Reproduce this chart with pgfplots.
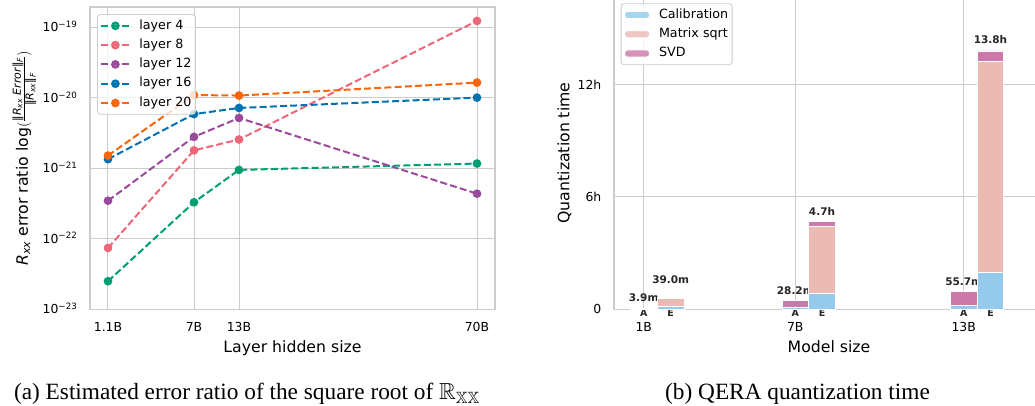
\documentclass[border=0pt]{standalone}
\usepackage{pgfplots}
\pgfplotsset{compat=1.18}
\usepackage{amssymb}
\usepackage{fontspec}
\setmainfont{DejaVu Sans}
\newfontfamily\capfont{Liberation Serif}
\definecolor{cGreen}{HTML}{009E73}
\definecolor{cPink}{HTML}{EE6677}
\definecolor{cPurple}{HTML}{9A4A9C}
\definecolor{cBlue}{HTML}{0072B2}
\definecolor{cOrange}{HTML}{F8650A}
\definecolor{cCal}{HTML}{95CAEC}
\definecolor{cSqrt}{HTML}{EBBAB3}
\definecolor{cSVD}{HTML}{CC78A8}
\definecolor{gridc}{HTML}{CCCCCC}
\newcommand{\fs}[1]{\fontsize{#1}{#1}\selectfont}
\tikzset{
  tot/.style={anchor=base, inner sep=0pt, font=\bfseries\fs{10.5}, text=black!85},
  ae/.style={anchor=base, inner sep=0pt, font=\bfseries\fs{9.5}, text=black!85, yshift=-6.9pt},
}
\begin{document}
\begin{tikzpicture}[x=1pt,y=1pt]
\useasboundingbox (0,0) rectangle (1035,406);
\pgfplotsset{
  common/.style={
    scale only axis,
    anchor=south west,
    axis line style={draw=gridc, line width=1.2pt},
    grid=major,
    major grid style={draw=gridc, line width=1pt},
    major tick length=0pt,
    tick label style={font=\fs{12.4}},
    /pgf/number format/assume math mode=true,
    label style={font=\fs{15.7}},
    xticklabel style={anchor=base, inner sep=0pt, yshift=-22pt},
    yticklabel style={anchor=base east, inner sep=0pt, xshift=-12.5pt, yshift=-4.5pt},
    xlabel style={anchor=base, inner sep=0pt},
    ylabel style={anchor=base, inner sep=0pt},
    legend cell align=left,
    legend style={font=\fs{12.7}, draw=gridc, line width=0.8pt, rounded corners=3pt,
      fill=white, fill opacity=0.8, text opacity=1, draw opacity=1,
      nodes={inner sep=1pt, text height=9.5pt, text depth=3pt},
      row sep=4.8pt, column sep=8pt, inner xsep=3pt, inner ysep=4pt},
  },
}
% ---------------- left panel ----------------
\begin{axis}[common, at={(90pt,96.8pt)}, width=405pt, height=302.3pt,
  xmin=90, xmax=495, ymode=log, ymin=1e-23, ymax=1.96e-19,
  xtick={108,194,239,477}, xticklabels={1.1B,7B,13B,70B},
  ytick={1e-23,1e-22,1e-21,1e-20,1e-19},
  yticklabels={10\textsuperscript{−23},10\textsuperscript{−22},10\textsuperscript{−21},10\textsuperscript{−20},10\textsuperscript{−19}},
  yminorticks=false,
  xlabel={Layer hidden size},
  xlabel style={at={(axis description cs:0.5,-0.1436)}},
  ylabel={{\itshape R}\textsubscript{\itshape xx} error ratio log$\Bigl($$\frac{\mbox{\fs{11}‖{\itshape R}\textsubscript{\itshape xx} {\itshape Error}‖\textsubscript{\itshape F}}}{\mbox{\fs{11}‖{\itshape R}\textsubscript{\itshape xx}‖\textsubscript{\itshape F}}}$$\Bigr)$},
  ylabel style={at={(axis description cs:-0.1531,0.5)}},
  legend style={at={(0.0173,0.976)}, anchor=north west},
  legend image code/.code={\draw[mark repeat=2,mark phase=2] plot coordinates {(0pt,0pt) (14pt,0pt) (28pt,0pt)};},
  every axis plot/.append style={line width=2pt, dash pattern=on 7pt off 3.2pt, mark=*, mark size=3.3pt, mark options={solid}},
]
\addplot[color=cGreen] coordinates {(108,2.5e-23)(194,3.3e-22)(239,9.5e-22)(477,1.17e-21)};
\addlegendentry{layer 4}
\addplot[color=cPink] coordinates {(108,7.4e-23)(194,1.8e-21)(239,2.57e-21)(477,1.24e-19)};
\addlegendentry{layer 8}
\addplot[color=cPurple] coordinates {(108,3.47e-22)(194,2.8e-21)(239,5.2e-21)(477,4.37e-22)};
\addlegendentry{layer 12}
\addplot[color=cBlue] coordinates {(108,1.35e-21)(194,5.9e-21)(239,7.2e-21)(477,1.01e-20)};
\addlegendentry{layer 16}
\addplot[color=cOrange] coordinates {(108,1.52e-21)(194,1.1e-20)(239,1.08e-20)(477,1.65e-20)};
\addlegendentry{layer 20}
\end{axis}
% ---------------- right panel ----------------
\begin{axis}[common, at={(614pt,96.7pt)}, width=430pt, height=312.6pt,
  xmin=614, xmax=1044, ymin=0, ymax=16.7, clip=false,
  ybar stacked, bar width=26.5pt,
  xtick={643.7,795.3,963.7}, xticklabels={1B,7B,13B},
  ytick={0,6,12}, yticklabels={0,6h,12h},
  xlabel={Model size},
  xlabel style={at={(axis description cs:0.5,-0.1388)}},
  ylabel={Quantization time},
  ylabel style={at={(axis description cs:-0.104,0.5)}},
  legend style={at={(0.0156,0.979)}, anchor=north west},
  legend image code/.code={\draw[#1] (0pt,-3.6pt) rectangle (25pt,3.6pt);},
]
\addplot[fill=cCal, draw=white, line width=0.9pt] coordinates {(643.7,0.025)(670.7,0.15)(795.3,0.12)(822,0.86)(963.7,0.22)(990.5,1.96)};
\addlegendentry{Calibration}
\addplot[fill=cSqrt, draw=white, line width=0.9pt] coordinates {(643.7,0)(670.7,0.45)(795.3,0)(822,3.56)(963.7,0)(990.5,11.27)};
\addlegendentry{Matrix sqrt}
\addplot[fill=cSVD, draw=white, line width=0.9pt] coordinates {(643.7,0.04)(670.7,0.05)(795.3,0.35)(822,0.28)(963.7,0.71)(990.5,0.57)};
\addlegendentry{SVD}
\node[tot] at (axis cs:643.7,0.41) {3.9m};
\node[tot] at (axis cs:670.7,1.40) {39.0m};
\node[tot] at (axis cs:795.3,0.81) {28.2m};
\node[tot] at (axis cs:822,5.03) {4.7h};
\node[tot] at (axis cs:963.7,1.25) {55.7m};
\node[tot] at (axis cs:990.5,14.18) {13.8h};
\node[ae] at (axis cs:643.7,0) {A};
\node[ae] at (axis cs:670.7,0) {E};
\node[ae] at (axis cs:795.3,0) {A};
\node[ae] at (axis cs:822,0) {E};
\node[ae] at (axis cs:963.7,0) {A};
\node[ae] at (axis cs:990.5,0) {E};
\end{axis}
\node[anchor=base, inner sep=0pt, font=\capfont\fs{23.3}] at (247,6) {(a) Estimated error ratio of the square root of $\mathbb{R}_{\mathbb{XX}}$};
\node[anchor=base, inner sep=0pt, font=\capfont\fs{23.3}] at (797.5,6) {(b) QERA quantization time};
\end{tikzpicture}
\end{document}
